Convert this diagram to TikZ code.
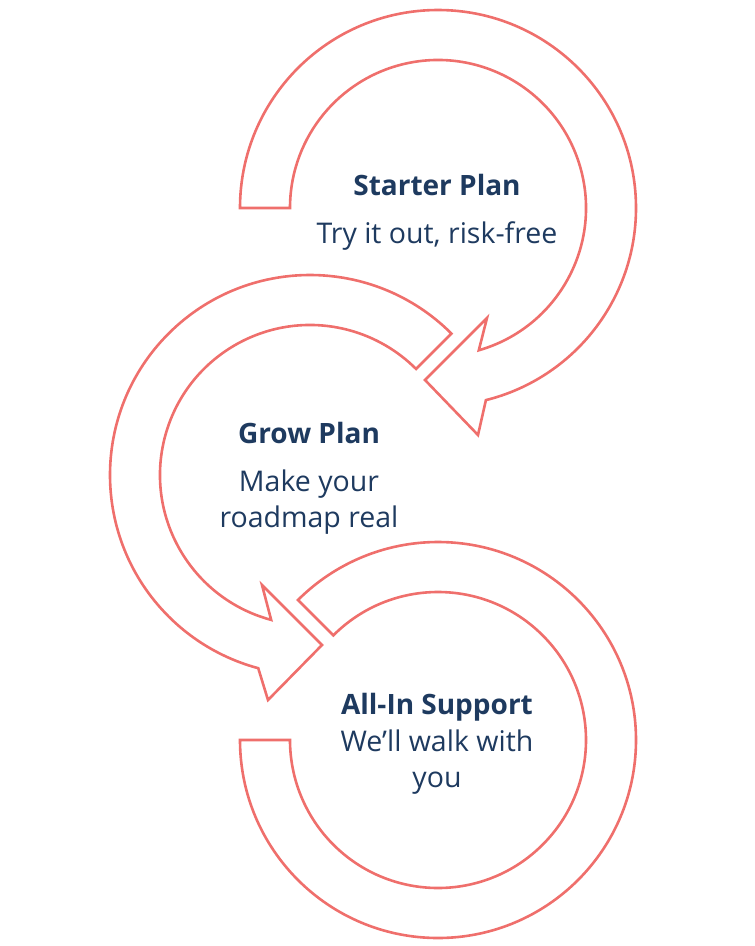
\documentclass[tikz,border=0pt]{standalone}
\usepackage{fontspec}
\setmainfont{Open Sans}
\usetikzlibrary{calc}
\definecolor{ringred}{HTML}{EF6F6C}
\definecolor{navy}{HTML}{1E3A5F}
\begin{document}
\begin{tikzpicture}
    [x=1pt,y=1pt,ring/.style={draw=ringred,line width=2.6pt,line join=miter},
     head/.style={font=\bfseries\fontsize{28}{32}\selectfont,text=navy},
     body/.style={font=\fontsize{28.5}{36}\selectfont,text=navy,align=center}]
    \useasboundingbox (0,0) rectangle (755,-946);
    % bottom ring
    \draw[ring] (240,-740) arc[start angle=180,end angle=495,radius=198]
        -- ($(438,-740)+(135:148)$) arc[start angle=495,end angle=180,radius=148] -- cycle;
    % middle arrow
    \draw[ring] ($(310,-475)+(45:200)$) arc[start angle=45,end angle=255,radius=200]
        -- (268,-700) -- (322,-645) -- (262,-585)
        -- ($(310,-475)+(255:150)$) arc[start angle=255,end angle=45,radius=150] -- cycle;
    % top arrow
    \draw[ring] (240,-208) arc[start angle=180,end angle=-76,radius=198]
        -- (478,-435) -- (425,-380) -- (487,-318)
        -- ($(438,-208)+(-74:148)$) arc[start angle=-74,end angle=180,radius=148] -- cycle;
    \node[head] (starter) at (437,-185) {Starter Plan};
    \node[body] (startertxt) at (437,-236) {Try it out, risk-free};
    \node[head] (grow) at (309,-433) {Grow Plan};
    \node[body] (growtxt) at (309,-502) {Make your\\roadmap real};
    \node[head] (allin) at (437,-707) {All-In Support};
    \node[body] (allintxt) at (437,-762) {We’ll walk with\\you};
\end{tikzpicture}
\end{document}
